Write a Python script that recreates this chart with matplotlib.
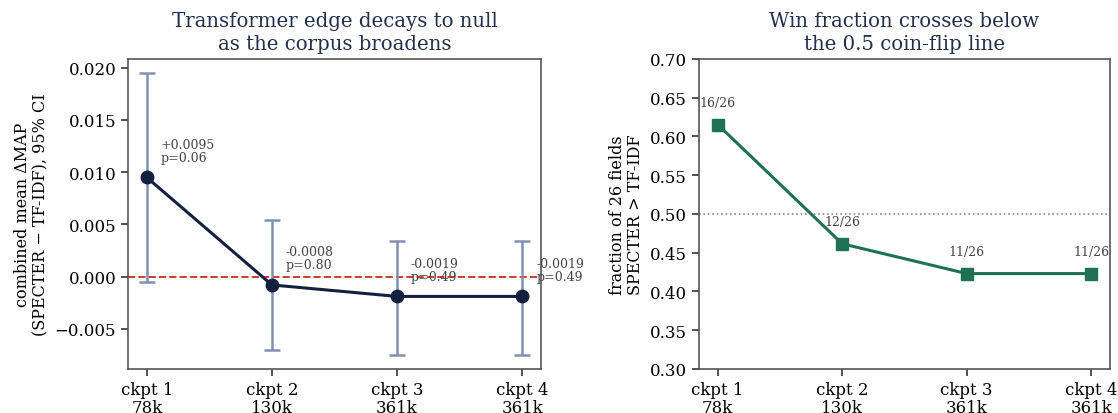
import matplotlib
matplotlib.use("Agg")
import matplotlib.pyplot as plt
import numpy as np

plt.rcParams['font.family'] = ['DejaVu Serif']

checkpoints = ["ckpt 1\n78k", "ckpt 2\n130k", "ckpt 3\n361k", "ckpt 4\n361k"]
delta_map = [0.0095, -0.0008, -0.0019, -0.0019]
ci_low = [-0.00048, -0.0070, -0.0075, -0.0075]
ci_high = [0.0195, 0.0054, 0.0034, 0.0034]
p_values = ["0.06", "0.80", "0.49", "0.49"]
win_counts = [16, 12, 11, 11]
n_fields = 26

navy = "#13203f"
err_col = "#7f91b3"
green = "#1e7152"
title_col = "#22304f"
spine_col = "#555555"

fig = plt.figure(figsize=(11.18, 4.14), dpi=100)
ax1 = fig.add_axes([0.1145, 0.1063, 0.3694, 0.749])
ax2 = fig.add_axes([0.6252, 0.1063, 0.3676, 0.749])

x = np.arange(len(checkpoints))
dm = np.array(delta_map)
yerr = np.vstack([dm - np.array(ci_low), np.array(ci_high) - dm])

ax1.axhline(0, color="#d03a2c", linestyle="--", linewidth=1.4, zorder=1)
ax1.errorbar(x, dm, yerr=yerr, fmt="none", ecolor=err_col, elinewidth=1.8,
             capsize=6, capthick=1.8, zorder=2)
ax1.plot(x, dm, color=navy, linewidth=2.2, marker="o", markersize=9, zorder=3)
for xi, v, p in zip(x, delta_map, p_values):
    ax1.annotate(f"{v:+.4f}\np={p}" if v > 0 else f"{v:.4f}\np={p}",
                 (xi, v), xytext=(10, 10), textcoords="offset points",
                 ha="left", va="bottom", fontsize=9, color="#444444",
                 linespacing=1.0, annotation_clip=False)
ax1.set_xlim(-0.15, 3.15)
ax1.set_xticks(x)
ax1.set_xticklabels(checkpoints, fontsize=12, linespacing=1.1)
ax1.set_yticks([-0.005, 0.0, 0.005, 0.010, 0.015, 0.020])
ax1.set_yticklabels(["\u22120.005", "0.000", "0.005", "0.010", "0.015", "0.020"])
ax1.tick_params(axis="y", labelsize=12)
ax1.set_ylabel("combined mean \u0394MAP\n(SPECTER \u2212 TF-IDF), 95% CI", fontsize=11.5,
               linespacing=1.1)
ax1.set_title("Transformer edge decays to null\nas the corpus broadens", fontsize=14.2,
              color=title_col, linespacing=1.3, pad=7)

frac = np.array(win_counts) / n_fields
ax2.axhline(0.5, color="#888888", linestyle=":", linewidth=1.2, zorder=1)
ax2.plot(x, frac, color=green, linewidth=2.2, marker="s", markersize=9, zorder=3)
for xi, f, c in zip(x, frac, win_counts):
    ax2.annotate(f"{c}/{n_fields}", (xi, f), xytext=(0, 11), textcoords="offset points",
                 ha="center", va="bottom", fontsize=9, color="#444444",
                 annotation_clip=False)
ax2.set_xlim(-0.15, 3.15)
ax2.set_ylim(0.30, 0.70)
ax2.set_yticks(np.arange(0.30, 0.701, 0.05))
ax2.set_yticklabels([f"{t:.2f}" for t in np.arange(0.30, 0.701, 0.05)])
ax2.set_xticks(x)
ax2.set_xticklabels(checkpoints, fontsize=12, linespacing=1.1)
ax2.tick_params(axis="y", labelsize=12)
ax2.set_ylabel("fraction of 26 fields\nSPECTER > TF-IDF", fontsize=11.5, linespacing=1.1)
ax2.set_title("Win fraction crosses below\nthe 0.5 coin-flip line", fontsize=14.2,
              color=title_col, linespacing=1.3, pad=7)

for ax in (ax1, ax2):
    for s in ax.spines.values():
        s.set_color(spine_col)
        s.set_linewidth(1.2)
    ax.tick_params(length=5, width=1.2, color="#333333")

fig.savefig("out.png", dpi=100)
